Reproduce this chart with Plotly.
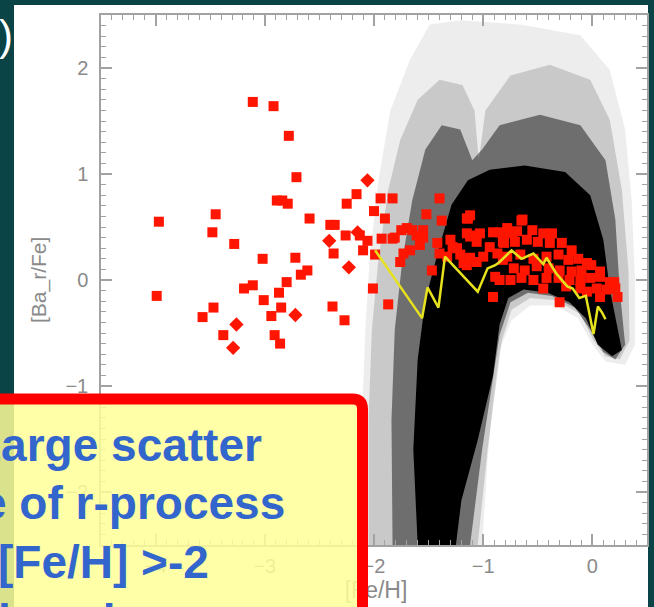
import plotly.graph_objects as go

# ---- simulated stars: density contours of the [Ba_r/Fe] vs [Fe/H] cloud ----
halo_x = [-2.11, -2.11, -2.08, -2.04, -1.96, -1.85, -1.67, -1.49, -1.21, -0.66, -0.11, 0.16, 0.30, 0.36,
          0.39, 0.39, 0.30, 0.12, 0.00, -0.13, -0.34, -0.57, -0.74, -0.85, -0.91, -0.96, -1.01]
halo_y = [-2.50, -1.32, -0.47, 0.19, 0.94, 1.60, 2.08, 2.41, 2.45, 2.41, 2.31, 1.98, 1.42, 0.75,
          0.00, -0.61, -0.80, -0.77, -0.61, -0.36, -0.24, -0.24, -0.38, -0.66, -1.13, -1.70, -2.50]

mid_x = [-2.05, -2.05, -2.02, -1.96, -1.87, -1.76, -1.60, -1.40, -1.19, -1.08, -1.04, -0.98, -0.75, -0.39,
         -0.02, 0.16, 0.27, 0.33, 0.34, 0.25, 0.12, 0.01, -0.11, -0.33, -0.57, -0.74, -0.83, -0.89, -0.96, -1.05]
mid_y = [-2.50, -1.32, -0.47, 0.19, 0.85, 1.32, 1.70, 1.89, 1.84, 1.60, 1.13, 1.60, 1.93, 2.03,
         1.89, 1.51, 0.85, 0.09, -0.57, -0.75, -0.72, -0.57, -0.32, -0.19, -0.17, -0.28, -0.57, -1.04, -1.60, -2.50]

dark_x = [-1.83, -1.84, -1.81, -1.74, -1.65, -1.53, -1.38, -1.21, -1.10, -1.01, -0.85, -0.48, -0.11, 0.12,
          0.21, 0.25, 0.30, 0.21, 0.10, -0.02, -0.16, -0.37, -0.59, -0.75, -0.85, -0.92, -1.01, -1.12]
dark_y = [-2.50, -1.32, -0.47, 0.19, 0.75, 1.23, 1.46, 1.42, 1.13, 1.23, 1.46, 1.56, 1.46, 1.13,
          0.57, -0.09, -0.61, -0.75, -0.68, -0.47, -0.26, -0.15, -0.12, -0.21, -0.52, -0.99, -1.60, -2.50]

core_x = [-1.60, -1.64, -1.60, -1.53, -1.41, -1.29, -1.14, -0.94, -0.62, -0.25, -0.02, 0.10, 0.16, 0.23,
          0.27, 0.18, 0.05, -0.06, -0.21, -0.41, -0.63, -0.77, -0.85, -0.91, -1.05, -1.20, -1.25]
core_y = [-2.50, -1.60, -0.75, -0.19, 0.28, 0.71, 0.94, 1.04, 1.08, 1.02, 0.80, 0.38, -0.09, -0.47,
          -0.66, -0.72, -0.61, -0.36, -0.21, -0.12, -0.09, -0.17, -0.42, -0.90, -1.51, -2.08, -2.50]

# ---- observed stars (squares) ----
obs_sq_x = [-3.11, -2.92, -2.78, -2.71, -2.89, -2.84, -2.79, -3.97, -3.45, -3.48, -3.28, -2.59, -3.02, -2.72,
            -2.61, -2.67, -2.80, -3.11, -3.19, -2.87, -3.01, -3.99, -3.47, -3.57, -2.85, -2.94, -3.38, -2.91,
            -2.86, -2.38, -2.27, -2.01, -1.87, -2.37, -2.40, -2.36, -2.26, -2.13, -2.06, -2.10, -2.25, -2.16,
            -1.94, -1.83, -2.00, -1.90, -1.93, -1.83, -1.99,
            -1.40, -1.52, -1.38, -1.70, -1.65, -1.55, -1.15, -1.12, -1.08, -1.06, -0.64, -0.37, -0.91, -0.85,
            -0.77, -0.73, -1.81, -1.75, -1.61, -1.55, -1.58, -1.67, -1.73, -1.76, -1.42, -1.30, -1.28, -1.12,
            -1.47, -0.91, -1.03, -0.82, -0.94, -0.87, -1.00, -0.82, -0.89, -0.85, -1.21, -1.12, -1.06, -1.15,
            -1.40, -1.33, -0.30, 0.23, 0.20, -1.18, -1.24, -1.15, -1.14,
            -0.65, -0.78, -0.69, -0.55, -0.45, -0.81, -0.71, -0.60, -0.50, -0.39, -0.28, -0.19, -0.78, -0.66,
            -0.54, -0.42, -0.31, -0.22, -0.13, -0.05, -0.72, -0.62, -0.51, -0.40, -0.30, -0.19, -0.10, -0.01,
            0.07, -0.75, -0.65, -0.54, -0.42, -0.31, -0.21, -0.11, -0.02, 0.07, 0.16, -0.45, -0.24, -0.11,
            -0.05, 0.04, 0.13, 0.07, 0.21]
obs_sq_y = [1.68, 1.64, 1.36, 0.97, 0.75, 0.75, 0.72, 0.55, 0.62, 0.45, 0.34, 0.58, 0.20, 0.21,
            0.09, 0.05, -0.02, -0.05, -0.08, -0.12, -0.19, -0.15, -0.26, -0.35, -0.26, -0.34, -0.52, -0.52,
            -0.60, -0.25, -0.38, -0.08, -0.23, 0.25, 0.52, 0.52, 0.42, 0.42, 0.37, 0.28, 0.72, 0.81,
            0.77, 0.77, 0.65, 0.58, 0.39, 0.39, 0.24,
            0.77, 0.62, 0.56, 0.49, 0.47, 0.47, 0.58, 0.61, 0.42, 0.36, 0.57, 0.44, 0.45, 0.45,
            0.45, 0.44, 0.40, 0.47, 0.42, 0.40, 0.33, 0.28, 0.25, 0.17, 0.35, 0.38, 0.31, 0.41,
            0.09, -0.16, 0.44, 0.36, 0.31, 0.25, 0.22, 0.19, 0.03, 0.00, 0.24, 0.21, 0.17, 0.14,
            0.25, 0.22, -0.21, -0.16, -0.02, 0.16, 0.30, 0.44, 0.58,
            0.56, 0.49, 0.46, 0.47, 0.44, 0.35, 0.36, 0.38, 0.36, 0.35, 0.35, 0.28, 0.22, 0.24,
            0.20, 0.22, 0.24, 0.19, 0.20, 0.16, 0.11, 0.09, 0.13, 0.11, 0.09, 0.08, 0.09, 0.14,
            0.08, 0.00, 0.02, 0.00, 0.02, 0.02, 0.00, 0.00, 0.02, 0.03, -0.02, -0.08, -0.06, -0.08,
            -0.11, -0.08, -0.09, -0.16, -0.08]

# ---- observed stars (diamonds) ----
obs_dm_x = [-2.72, -3.26, -3.29, -2.41, -2.23, -2.15, -2.06]
obs_dm_y = [-0.33, -0.42, -0.64, 0.37, 0.12, 0.45, 0.94]

# ---- mean trend of the model ----
mean_x = [-1.99, -1.56, -1.51, -1.41, -1.35, -1.05, -0.96, -0.89, -0.85, -0.74, -0.65, -0.54, -0.45, -0.42,
          -0.33, -0.23, -0.18, -0.12, -0.06, 0.01, 0.05, 0.09, 0.12]
mean_y = [0.28, -0.36, -0.07, -0.26, 0.22, -0.11, 0.11, 0.14, 0.17, 0.28, 0.20, 0.25, 0.15, 0.21,
          0.06, -0.06, -0.08, -0.17, -0.15, -0.51, -0.25, -0.31, -0.37]

x_ticks = [-4, -3, -2, -1, 0]
y_ticks = [-2, -1, 0, 1, 2]

box_lines = ["Large scatter", "e of r-process", "[Fe/H] >-2", "by a large"]

W, H = 654, 607
BG = "#0a4446"
GREY = "#8a8a8a"
AXIS = "#a2a2a2"

# plot frame in page pixels
FX0, FX1, FY0, FY1 = 101, 647, 15, 545


def px(x):
    return x / W


def py(y):
    return 1 - y / H


fig = go.Figure()

for xs, ys, a in [(halo_x, halo_y, 0.07), (mid_x, mid_y, 0.15),
                  (dark_x, dark_y, 0.45), (core_x, core_y, 1.0)]:
    fig.add_trace(go.Scatter(x=xs, y=ys, mode="lines", fill="toself",
                             fillcolor=f"rgba(0,0,0,{a})", line=dict(width=0),
                             hoverinfo="skip", showlegend=False))

fig.add_trace(go.Scatter(x=obs_sq_x, y=obs_sq_y, mode="markers",
                         marker=dict(symbol="square", size=10, color="#ff1500",
                                     line=dict(width=0)), showlegend=False))
fig.add_trace(go.Scatter(x=obs_dm_x, y=obs_dm_y, mode="markers",
                         marker=dict(symbol="diamond", size=11, color="#ff1500",
                                     line=dict(width=0)), showlegend=False))
fig.add_trace(go.Scatter(x=mean_x, y=mean_y, mode="lines",
                         line=dict(color="#e6e21e", width=2.5), showlegend=False))

# x-axis title on a full-page pixel subplot, so the note box can sit on top of it
fig.add_trace(go.Scatter(x=[376], y=[592], mode="text", text=["[Fe/H]"],
                         textfont=dict(family="Liberation Sans", size=23, color=GREY),
                         xaxis="x2", yaxis="y2", showlegend=False, hoverinfo="skip"))

axis_common = dict(showline=True, linecolor=AXIS, linewidth=1.5, mirror="ticks",
                   ticks="inside", ticklen=11, tickwidth=1.5, tickcolor=AXIS,
                   showgrid=False, zeroline=False,
                   tickfont=dict(family="Liberation Sans", size=20, color=GREY),
                   minor=dict(ticks="inside", ticklen=5, tickwidth=1.3, tickcolor=AXIS, dtick=0.1))

fig.update_layout(
    xaxis=dict(range=[-4.5, 0.5], tickvals=x_ticks, ticklabelstandoff=2,
               domain=[px(FX0), px(FX1)], anchor="y", **axis_common),
    yaxis=dict(range=[-2.5, 2.5], tickvals=y_ticks, ticklabelstandoff=7,
               domain=[py(FY1), py(FY0)], anchor="x", **axis_common),
    xaxis2=dict(range=[0, W], domain=[0, 1], visible=False, anchor="y2"),
    yaxis2=dict(range=[H, 0], domain=[0, 1], visible=False, anchor="x2"),
)

shapes = [
    # white panel
    dict(type="rect", xref="paper", yref="paper", x0=px(14), x1=px(648), y0=py(620), y1=py(5),
         fillcolor="white", line=dict(width=0), layer="below"),
    # note box
    dict(type="path", xref="paper", yref="paper", layer="above",
         path=(f"M {px(-20)},{py(625)} L {px(-20)},{py(399)} L {px(352.5)},{py(399)} "
               f"Q {px(362.5)},{py(399)} {px(362.5)},{py(409)} L {px(362.5)},{py(625)} Z"),
         fillcolor="rgba(255,255,153,0.85)", line=dict(color="#ff0000", width=11)),
]

annotations = [
    dict(text="[Ba_r/Fe]", xref="paper", yref="paper", x=px(39), y=py(280), textangle=-90,
         xanchor="center", yanchor="middle",
         showarrow=False, font=dict(family="Liberation Sans", size=21, color=GREY)),
    dict(text="(c)", xref="paper", yref="paper", x=px(15), y=py(35), xanchor="right", yanchor="middle",
         showarrow=False, font=dict(family="Liberation Sans", size=42, color="white")),
]
for txt, x0, yc in zip(box_lines, [-29, -21, -4, -4], [445, 503, 562, 621]):
    annotations.append(dict(text=f"<b>{txt}</b>", xref="paper", yref="paper", x=px(x0), y=py(yc),
                            xanchor="left", yanchor="middle", showarrow=False,
                            font=dict(family="Liberation Sans", size=46, color="#3366cc")))

fig.update_layout(width=W, height=H, margin=dict(l=0, r=0, t=0, b=0),
                  paper_bgcolor=BG, plot_bgcolor="rgba(0,0,0,0)", shapes=shapes,
                  annotations=annotations, showlegend=False)

fig.write_html("out.html")
